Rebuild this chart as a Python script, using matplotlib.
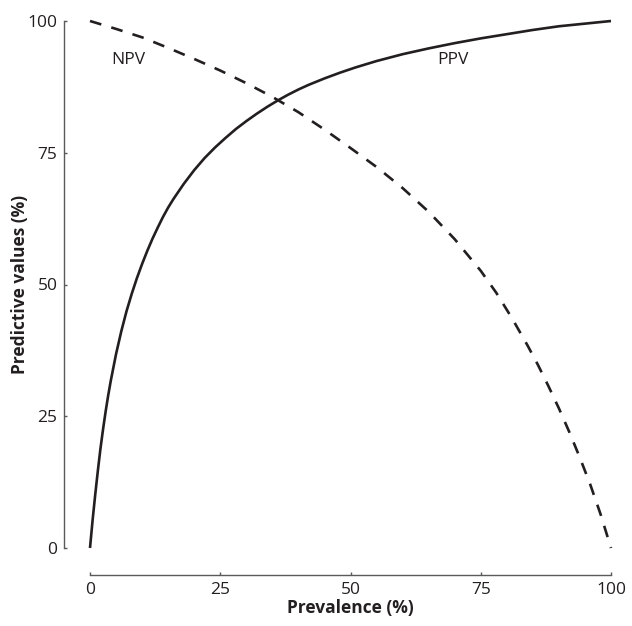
import matplotlib
matplotlib.use("Agg")
import matplotlib.pyplot as plt

# Data read (estimated) from the reference picture
ppv_x = [0, 0.5, 1, 1.5, 2, 2.5, 3, 3.5, 4, 5, 6, 7, 8, 9, 10, 11, 12, 13, 14, 15, 16,
         18, 20, 22, 24, 26, 28, 30, 32, 34, 36, 38, 40, 42, 45, 48, 51, 55, 60, 65,
         70, 75, 80, 85, 90, 95, 100]
ppv_y = [0, 5.3, 10.1, 14.6, 18.8, 22.5, 25.9, 29.0, 31.8, 36.8, 41.1, 44.9, 48.2, 51.2,
         53.9, 56.4, 58.7, 60.8, 62.8, 64.6, 66.2, 69.1, 71.7, 74.0, 76.0, 77.8, 79.5,
         81.0, 82.4, 83.7, 84.9, 86.0, 87.0, 87.9, 89.1, 90.2, 91.2, 92.4, 93.7, 94.8,
         95.8, 96.7, 97.5, 98.3, 99.0, 99.5, 100]

npv_x = [0, 5, 10, 15, 20, 25, 30, 35, 40, 45, 50, 55, 60, 65, 70, 75, 78, 81, 84, 86,
         88, 90, 92, 94, 96, 98, 100]
npv_y = [100, 98.5, 96.9, 94.9, 92.8, 90.6, 88.2, 85.6, 82.7, 79.4, 75.9, 72.3, 68.3,
         63.8, 58.6, 52.6, 48.4, 43.6, 38.4, 34.7, 30.7, 26.5, 22.0, 17.2, 12.1, 6.4, 0]

x_ticks = [0, 25, 50, 75, 100]
y_ticks = [0, 25, 50, 75, 100]
x_label = "Prevalence (%)"
y_label = "Predictive values (%)"

plt.rcParams['font.family'] = ['Open Sans', 'DejaVu Sans']
plt.rcParams['lines.scale_dashes'] = False

W, H = 632, 626
fig = plt.figure(figsize=(W / 100, H / 100), dpi=100)
ax = fig.add_axes([90 / W, 1 - 548 / H, 521 / W, 527 / H])

ink = '#231f20'
spine_c = '#5a5a5a'

ax.plot(ppv_x, ppv_y, color=ink, lw=1.9, clip_on=False, solid_capstyle='butt',
        solid_joinstyle='round')
ax.plot(npv_x, npv_y, color=ink, lw=1.9, clip_on=False, dashes=(8.5, 7.5),
        dash_capstyle='butt', dash_joinstyle='round')

ax.text(7.3, 92.6, "NPV", ha='center', va='center', fontsize=12.5, color=ink)
ax.text(69.7, 92.6, "PPV", ha='center', va='center', fontsize=12.5, color=ink)

ax.set_xlim(0, 100)
ax.set_ylim(0, 100)
ax.set_xticks(x_ticks)
ax.set_yticks(y_ticks)

for s in ['top', 'right']:
    ax.spines[s].set_visible(False)
ax.spines['left'].set_position(('outward', 18.4))
ax.spines['bottom'].set_position(('outward', 19.4))
for s in ['left', 'bottom']:
    ax.spines[s].set_color(spine_c)
    ax.spines[s].set_linewidth(1.0)

ax.tick_params(axis='both', direction='in', length=2.5, width=1.0, color=spine_c,
               labelsize=12.5, labelcolor=ink)
ax.tick_params(axis='y', pad=5)
ax.tick_params(axis='x', pad=5)

ax.set_xlabel(x_label, fontsize=12.5, fontweight='bold', color=ink, labelpad=1)
ax.set_ylabel(y_label, fontsize=12.5, fontweight='bold', color=ink, labelpad=-1)

fig.savefig("out.png", dpi=100)
